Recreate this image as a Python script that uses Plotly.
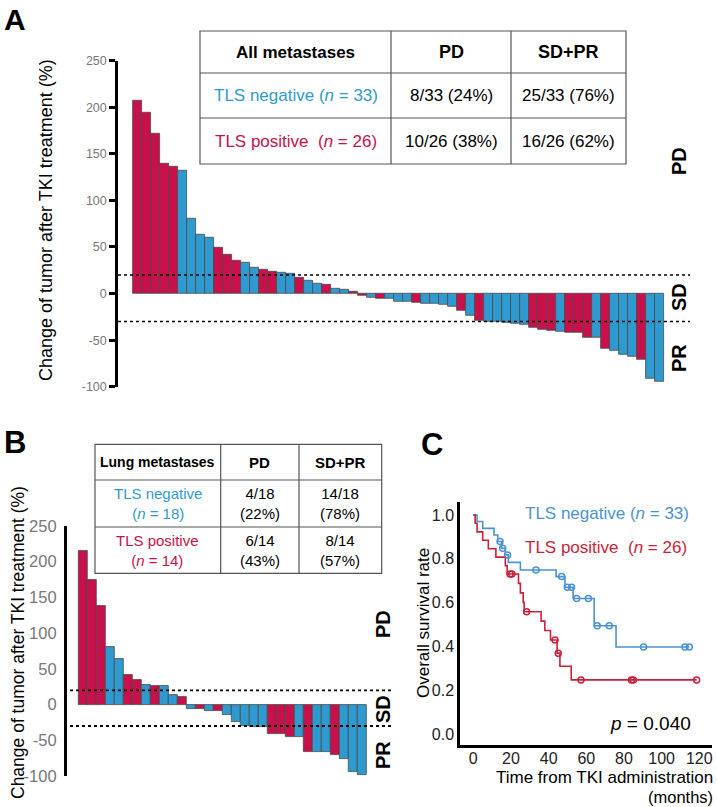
import plotly.graph_objects as go

W, H = 717, 807
def fx(p): return p / W
def fy(p): return 1 - p / H

RED = '#c8114b'
BLUE = '#2f9ad0'
KM_RED = '#cc1f3a'
KM_BLUE = '#4b93d1'
FONT = 'Liberation Sans, Arial, sans-serif'

# ---------------- data ----------------
# Panel A: all metastases (waterfall), TLS status per bar: 'pos' / 'neg'
a_values = [207, 194, 172, 139, 136, 132, 80, 63, 60, 49, 42, 35, 33, 28, 26, 23, 22, 21,
            17, 14, 10.5, 9.5, 5, 4.5, 2.5, -2.5, -4.8, -5, -5.8, -8.3, -9, -9.5, -10.6,
            -11.3, -11.7, -14.6, -17.9, -24, -29.2, -30.5, -30.7, -31.4, -32.5, -33.6,
            -37, -39, -40, -41, -41.6, -42.3, -47.4, -47.4, -59.5, -61.7, -66, -67.5,
            -71, -91.6, -95]
a_tls = ['pos', 'pos', 'pos', 'pos', 'pos', 'neg', 'neg', 'neg', 'neg', 'pos', 'pos', 'pos',
         'neg', 'neg', 'pos', 'pos', 'neg', 'neg', 'pos', 'neg', 'neg', 'pos', 'neg', 'neg',
         'pos', 'pos', 'neg', 'pos', 'neg', 'neg', 'neg', 'pos', 'neg', 'neg', 'neg', 'neg',
         'pos', 'neg', 'pos', 'neg', 'neg', 'neg', 'neg', 'neg', 'pos', 'pos', 'pos', 'neg',
         'pos', 'pos', 'pos', 'neg', 'pos', 'neg', 'neg', 'neg', 'pos', 'neg', 'neg']

# Panel B: lung metastases
b_values = [215, 175, 138, 80, 64, 42, 34, 28, 26.5, 25.5, 14, 10, -5.6, -6, -8.4, -8.8,
            -14.4, -25, -29.8, -30.7, -31.2, -40.5, -40.5, -46, -45.6, -66.5, -66.5, -66.5,
            -70, -76, -94, -98]
b_tls = ['pos', 'pos', 'pos', 'neg', 'neg', 'pos', 'pos', 'neg', 'pos', 'neg', 'neg', 'pos',
         'neg', 'pos', 'neg', 'pos', 'neg', 'neg', 'neg', 'neg', 'neg', 'pos', 'pos', 'pos',
         'neg', 'pos', 'neg', 'neg', 'pos', 'neg', 'neg', 'neg']

wf_ticks = [-100, -50, 0, 50, 100, 150, 200, 250]
wf_ticktext = ['-100', '-50', '0', '50', '100', '150', '200', '250']
pd_cut, pr_cut = 20, -30

# Panel C: Kaplan-Meier steps (time in months, survival)
neg_t = [0, 2, 5, 11, 13, 15, 17, 18.6, 25, 44, 48.7, 53, 64.2, 75.8, 114.7]
neg_s = [1.0, 0.970, 0.939, 0.909, 0.879, 0.848, 0.818, 0.784, 0.749, 0.719, 0.670, 0.619,
         0.495, 0.398, 0.398]
neg_cens_t = [14.2, 15.6, 18.2, 33.3, 46.9, 49.9, 52.2, 54.9, 61.1, 65.8, 72.2, 90.4, 112.4, 114.7]
neg_cens_s = [0.879, 0.848, 0.818, 0.749, 0.719, 0.670, 0.670, 0.619, 0.619, 0.495, 0.495,
              0.398, 0.398, 0.398]
pos_t = [0, 1, 2, 5, 8, 12, 17, 18, 24, 25, 26.5, 27, 36, 38, 41, 44.5, 46, 52, 118.6]
pos_s = [1.0, 0.962, 0.923, 0.885, 0.846, 0.808, 0.769, 0.731, 0.688, 0.645, 0.602, 0.559,
         0.516, 0.473, 0.430, 0.370, 0.310, 0.248, 0.248]
pos_cens_t = [19.5, 20.5, 28.3, 43.4, 45.1, 57.2, 84, 85, 118.6]
pos_cens_s = [0.731, 0.731, 0.559, 0.430, 0.370, 0.248, 0.248, 0.248, 0.248]
km_xticks = [0, 20, 40, 60, 80, 100, 120]
km_yticks = [0.0, 0.2, 0.4, 0.6, 0.8, 1.0]
km_yticktext = ['0.0', '0.2', '0.4', '0.6', '0.8', '1.0']

# Tables
table_a = [['All metastases', 'PD', 'SD+PR'],
           ['TLS negative (<i>n</i> = 33)', '8/33 (24%)', '25/33 (76%)'],
           ['TLS positive  (<i>n</i> = 26)', '10/26 (38%)', '16/26 (62%)']]
table_b = [['Lung metastases', 'PD', 'SD+PR'],
           ['TLS negative<br>(<i>n</i> = 18)', '4/18<br>(22%)', '14/18<br>(78%)'],
           ['TLS positive<br>(<i>n</i> = 14)', '6/14<br>(43%)', '8/14<br>(57%)']]

# ---------------- figure ----------------
fig = go.Figure()
col = lambda g: RED if g == 'pos' else BLUE

fig.add_trace(go.Bar(x=list(range(1, len(a_values) + 1)), y=a_values, width=1,
                     marker=dict(color=[col(g) for g in a_tls], line=dict(color='#4a4a4a', width=0.8)),
                     xaxis='x', yaxis='y', showlegend=False))
fig.add_trace(go.Bar(x=list(range(1, len(b_values) + 1)), y=b_values, width=1,
                     marker=dict(color=[col(g) for g in b_tls], line=dict(color='#4a4a4a', width=0.8)),
                     xaxis='x2', yaxis='y2', showlegend=False))

fig.add_trace(go.Scatter(x=neg_t, y=neg_s, mode='lines', line=dict(color=KM_BLUE, width=1.6, shape='hv'),
                         xaxis='x3', yaxis='y3', showlegend=False))
fig.add_trace(go.Scatter(x=pos_t, y=pos_s, mode='lines', line=dict(color=KM_RED, width=1.6, shape='hv'),
                         xaxis='x3', yaxis='y3', showlegend=False))
fig.add_trace(go.Scatter(x=neg_cens_t, y=neg_cens_s, mode='markers',
                         marker=dict(symbol='circle-open', size=6, color=KM_BLUE, line=dict(width=1.5)),
                         xaxis='x3', yaxis='y3', showlegend=False))
fig.add_trace(go.Scatter(x=pos_cens_t, y=pos_cens_s, mode='markers',
                         marker=dict(symbol='circle-open', size=6, color=KM_RED, line=dict(width=1.5)),
                         xaxis='x3', yaxis='y3', showlegend=False))

axis_line = dict(showline=True, linecolor='black', linewidth=2.5, showgrid=False, zeroline=False,
                 automargin=False)

# A axes: bar i spans px 133.3+9(i-1) .. +9
a_x0, a_x1 = 118, 690
fig.update_layout(
    xaxis=dict(domain=[fx(a_x0), fx(a_x1)], range=[(a_x0 - 137.8) / 9 + 1, (a_x1 - 137.8) / 9 + 1],
               visible=False, anchor='y', automargin=False),
    yaxis=dict(domain=[fy(386.7), fy(60.7)], range=[-100, 250], tickvals=wf_ticks, ticktext=wf_ticktext,
               ticks='outside', ticklen=6, tickwidth=2.5, tickcolor='black',
               tickfont=dict(size=12.5, color='#777777', family=FONT), anchor='x', **axis_line),
    xaxis2=dict(domain=[fx(66.7), fx(392)], range=[(66.7 - 82.8) / 9 + 1, (392 - 82.8) / 9 + 1],
                visible=False, anchor='y2', automargin=False),
    yaxis2=dict(domain=[fy(776), fy(526)], range=[-100, 250], tickvals=wf_ticks, ticktext=wf_ticktext,
                ticks='', tickfont=dict(size=16.5, color='#777777', family=FONT), anchor='x2',
                ticklabelstandoff=4, **axis_line),
    xaxis3=dict(domain=[fx(460), fx(711.7)], range=[-7.06, 126.6], tickvals=km_xticks, ticks='',
                tickfont=dict(size=16, color='#222222', family=FONT), anchor='y3',
                ticklabelstandoff=-3, **axis_line),
    yaxis3=dict(domain=[fy(745), fy(501.7)], range=[-0.0488, 1.0606], tickvals=km_yticks,
                ticktext=km_yticktext, ticks='', tickfont=dict(size=16, color='#222222', family=FONT),
                anchor='x3', **axis_line),
)

shapes = []
for v in (pd_cut, pr_cut):
    shapes.append(dict(type='line', xref='paper', yref='y', x0=fx(118), x1=fx(690), y0=v, y1=v,
                       line=dict(color='black', width=1.5, dash='dot'), layer='above'))
    shapes.append(dict(type='line', xref='paper', yref='y2', x0=fx(70), x1=fx(392), y0=v, y1=v,
                       line=dict(color='black', width=1.8, dash='dot'), layer='above'))

annotations = []
def txt(x, y, s, size, color='black', bold=False, angle=0, xanchor='center', align='center',
        yanchor='middle'):
    annotations.append(dict(x=fx(x), y=fy(y), xref='paper', yref='paper', text=('<b>%s</b>' % s) if bold else s,
                            showarrow=False, textangle=angle, xanchor=xanchor, yanchor=yanchor,
                            align=align, font=dict(size=size, color=color, family=FONT)))

def draw_table(xs, ys, rows, hsize, bsize, row_colors):
    shapes.append(dict(type='rect', xref='paper', yref='paper', x0=fx(xs[0]), x1=fx(xs[-1]),
                       y0=fy(ys[-1]), y1=fy(ys[0]), line=dict(color='#555555', width=1.2),
                       fillcolor='white', layer='above'))
    for xv in xs[1:-1]:
        shapes.append(dict(type='line', xref='paper', yref='paper', x0=fx(xv), x1=fx(xv),
                           y0=fy(ys[-1]), y1=fy(ys[0]), line=dict(color='#555555', width=1.2), layer='above'))
    for yv in ys[1:-1]:
        shapes.append(dict(type='line', xref='paper', yref='paper', x0=fx(xs[0]), x1=fx(xs[-1]),
                           y0=fy(yv), y1=fy(yv), line=dict(color='#555555', width=1.2), layer='above'))
    for r, row in enumerate(rows):
        cy = (ys[r] + ys[r + 1]) / 2
        for c, cell in enumerate(row):
            cx = (xs[c] + xs[c + 1]) / 2
            if r == 0:
                txt(cx, cy, cell, hsize if c == 0 else hsize + 1, bold=True)
            else:
                txt(cx, cy, cell, bsize, color=row_colors[r] if c == 0 else 'black')

draw_table([200, 391, 511, 626], [31, 73, 118, 164], table_a, 17, 17, [None, BLUE, RED])
draw_table([95, 220.7, 299, 381.7], [444.3, 480, 527, 573.3], table_b, 14, 15, [None, BLUE, RED])

# panel letters
txt(2, 19, 'A', 30, bold=True, xanchor='left')
txt(2, 443, 'B', 31, bold=True, xanchor='left')
txt(419, 444, 'C', 31, bold=True, xanchor='left')

# axis titles
txt(46, 220, 'Change of tumor after TKI treatment (%)', 18, angle=-90)
txt(18, 643, 'Change of tumor after TKI treatment (%)', 17.5, angle=-90)
txt(423, 623, 'Overall survival rate', 17, angle=-90)
txt(715, 777.5, 'Time from TKI administration', 17, xanchor='right')
txt(715, 797, '(months)', 16.5, xanchor='right')

# response labels
for x, ys in ((679, (161, 297, 358)), (383, (624, 709, 755))):
    for y, s in zip(ys, ('PD', 'SD', 'PR')):
        txt(x, y, s, 20, bold=True, angle=-90)

# KM legend & p-value
txt(523, 513, 'TLS negative (<i>n</i> = 33)', 17, color=KM_BLUE, xanchor='left')
txt(523, 547, 'TLS positive  (<i>n</i> = 26)', 17, color=KM_RED, xanchor='left')
txt(693, 723, '<i>p</i> = 0.040', 19, xanchor='right')

fig.update_layout(width=W, height=H, margin=dict(l=0, r=0, t=0, b=0, autoexpand=False),
                  paper_bgcolor='white', plot_bgcolor='white', bargap=0, shapes=shapes,
                  annotations=annotations, font=dict(family=FONT))
fig.write_html('out.html', config={'displayModeBar': False},
               post_script="document.body.style.margin='0px';document.body.style.padding='0px';"
                           "document.body.style.overflow='hidden';")
